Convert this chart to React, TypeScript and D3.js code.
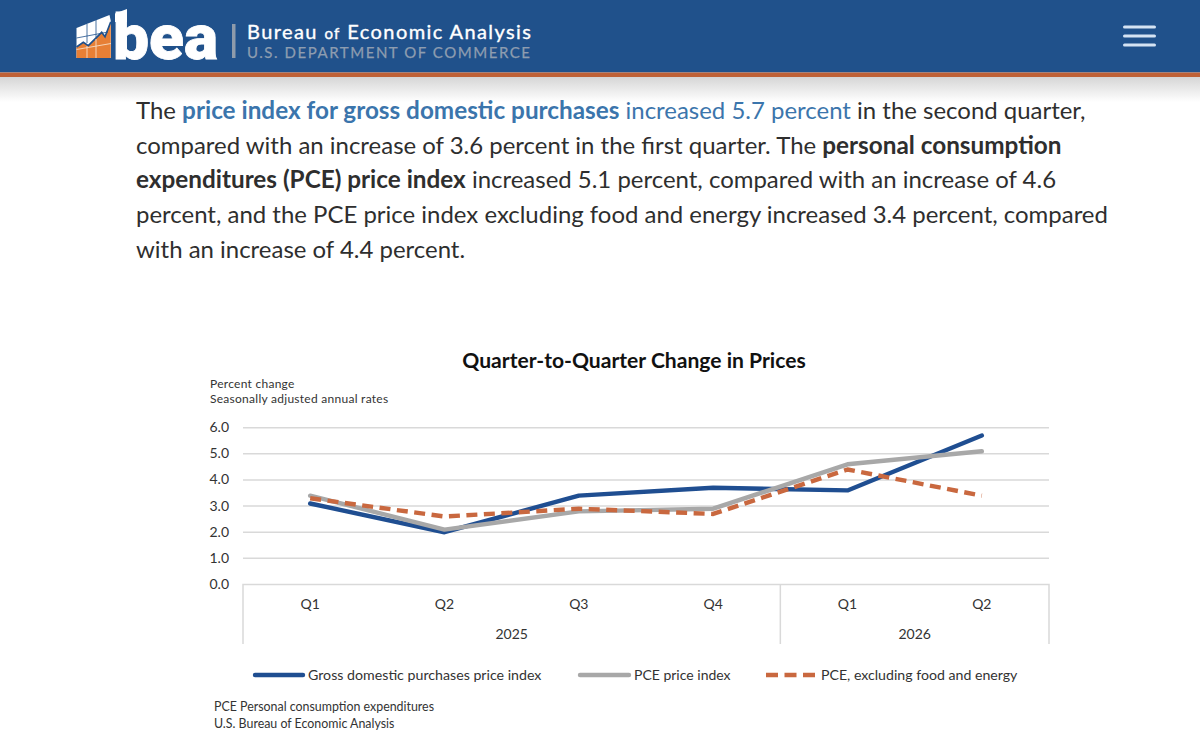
import React from "react";
import * as d3 from "d3";

const quarters = ["Q1", "Q2", "Q3", "Q4", "Q1", "Q2"];
const years = [{ label: "2025", from: 0, to: 4 }, { label: "2026", from: 4, to: 6 }];
const yTicks = [0, 1, 2, 3, 4, 5, 6];
const gross = [3.1, 2.0, 3.4, 3.7, 3.6, 5.7];
const pce = [3.4, 2.1, 2.8, 2.9, 4.6, 5.1];
const pceCore = [3.3, 2.6, 2.9, 2.7, 4.4, 3.4];
const legendLabels = ["Gross domestic purchases price index", "PCE price index", "PCE, excluding food and energy"];
const BLUE = "#1f4e91", GRAY = "#a8a8a8", ORANGE = "#c9683f", GRID = "#d9d9d9";

const paragraph: { t: string; b?: boolean; c?: string }[][] = [
  [{ t: "The " }, { t: "price index for gross domestic purchases", b: true, c: "#3b75ac" }, { t: " increased 5.7 percent", c: "#3b75ac" }, { t: " in the second quarter," }],
  [{ t: "compared with an increase of 3.6 percent in the first quarter. The " }, { t: "personal consumption", b: true }],
  [{ t: "expenditures (PCE) price index", b: true }, { t: " increased 5.1 percent, compared with an increase of 4.6" }],
  [{ t: "percent, and the PCE price index excluding food and energy increased 3.4 percent, compared" }],
  [{ t: "with an increase of 4.4 percent." }],
];
const paragraphY = [119, 154, 188, 223, 258];

const F = "Lato, sans-serif";

export default function App() {
  const x0 = 243, x1 = 1049, y0 = 584.5, y6 = 427.7, bottom = 644;
  const band = d3.scaleBand<number>().domain(d3.range(quarters.length)).range([x0, x1]);
  const y = d3.scaleLinear().domain([0, 6]).range([y0, y6]);
  const cx = (i: number) => (band(i) as number) + band.bandwidth() / 2;
  const line = d3.line<number>().x((_, i) => cx(i)).y((d) => y(d));
  const sep = band(4) as number;
  return (
    <svg width={1200} height={740} style={{ position: "absolute", left: 0, top: 0, display: "block" }}>
      <defs>
        <linearGradient id="shadow" x1="0" x2="0" y1="0" y2="1">
          <stop offset="0" stopColor="#d4d4d4" />
          <stop offset="1" stopColor="#ffffff" />
        </linearGradient>
      </defs>
      <rect width={1200} height={740} fill="#fff" />
      <rect y={76} width={1200} height={26} fill="url(#shadow)" />
      <rect width={1200} height={72.5} fill="#20518b" />
      <rect y={72.5} width={1200} height={4.5} fill="#bf6136" />

      {/* logo */}
      <polygon points="76.5,28 109.5,15 111,22 111,58 76.5,58" fill="#ffffff" />
      <polygon points="76.5,47 83.3,42.3 88.3,45.7 101.7,32.3 105,36.7 110.8,21.7 110.8,58 76.5,58" fill="#e77f35" />
      <path d="M76.5,47 L83.3,42.3 L88.3,45.7 L101.7,32.3 L105,36.7 L110.8,21.7" fill="none" stroke="#20518b" strokeWidth={1.7} />
      <path d="M87,46 V58 M96,39 V58 M76.5,49.5 L111,43.5" stroke="#f7dcc4" strokeWidth={0.9} fill="none" />
      <path d="M87,24 V43 M96,20 V37 M76.5,38 L108,32" stroke="#20518b" strokeWidth={0.8} fill="none" />
      <polygon points="115,13.5 127,9 127,22 115,22" fill="#fff" />
      <text x={113} y={58.5} fontFamily="Roboto, sans-serif" fontWeight={900} fontSize={63} fill="#fff" stroke="#fff" strokeWidth={0.8} textLength={105} lengthAdjust="spacingAndGlyphs">bea</text>
      <rect x={232} y={24} width={3.5} height={34} fill="#8e9bab" />
      <text x={247} y={39} fontFamily={F} fontSize={20} fill="#fff" stroke="#fff" strokeWidth={0.35} textLength={284}>
        Bureau <tspan fontSize={15}>of</tspan> Economic Analysis
      </text>
      <text x={247} y={57.5} fontFamily={F} fontSize={15} fill="#8e9db0" stroke="#8e9db0" strokeWidth={0.25} textLength={283}>U.S. DEPARTMENT OF COMMERCE</text>
      {[27, 36, 45].map((yy) => (
        <rect key={yy} x={1123} y={yy - 1.5} width={33} height={3} rx={1.5} fill="#d5e3f3" />
      ))}

      {/* paragraph */}
      {paragraph.map((runs, i) => (
        <text key={i} x={136} y={paragraphY[i]} fontFamily={F} fontSize={23.96} fill="#2e2e2e">
          {runs.map((r, j) => (
            <tspan key={j} fontWeight={r.b ? 700 : 400} fontSize={r.b ? 24.3 : 23.96} fill={r.c ?? "#2e2e2e"}>{r.t}</tspan>
          ))}
        </text>
      ))}

      {/* chart */}
      <text x={634} y={368} textAnchor="middle" fontFamily={F} fontWeight={700} fontSize={21.1} fill="#111">Quarter-to-Quarter Change in Prices</text>
      <text x={210} y={388} fontFamily={F} fontSize={12} fill="#333" letterSpacing={0.27}>Percent change</text>
      <text x={210} y={403} fontFamily={F} fontSize={12} fill="#333" letterSpacing={0.27}>Seasonally adjusted annual rates</text>

      {yTicks.map((t) => (
        <g key={t}>
          {t > 0 && <line x1={x0} x2={x1} y1={y(t)} y2={y(t)} stroke={GRID} strokeWidth={1.5} />}
          <text x={229} y={y(t) + 4.5} textAnchor="end" fontFamily={F} fontSize={14} fill="#333">{t.toFixed(1)}</text>
        </g>
      ))}

      <path d={`M${x0},${bottom}V${y0}H${x1}V${bottom}M${sep},${y0}V${bottom}`} fill="none" stroke={GRID} strokeWidth={1.5} />
      {quarters.map((q, i) => (
        <text key={i} x={cx(i)} y={609} textAnchor="middle" fontFamily={F} fontSize={14} fill="#333">{q}</text>
      ))}
      {years.map((yr) => (
        <text key={yr.label} x={((band(yr.from) as number) + (yr.to < 6 ? (band(yr.to) as number) : x1)) / 2} y={639} textAnchor="middle" fontFamily={F} fontSize={14} fill="#333">{yr.label}</text>
      ))}

      <path d={line(gross) ?? ""} fill="none" stroke={BLUE} strokeWidth={4.4} strokeLinecap="round" strokeLinejoin="round" />
      <path d={line(pce) ?? ""} fill="none" stroke={GRAY} strokeWidth={4.4} strokeLinecap="round" strokeLinejoin="round" />
      <path d={line(pceCore) ?? ""} fill="none" stroke={ORANGE} strokeWidth={4.4} strokeDasharray="11 6.5" strokeLinejoin="round" />

      {/* legend */}
      <line x1={255} x2={303} y1={675} y2={675} stroke={BLUE} strokeWidth={4.4} strokeLinecap="round" />
      <text x={308} y={680} fontFamily={F} fontSize={14.2} fill="#333">{legendLabels[0]}</text>
      <line x1={580} x2={629} y1={675} y2={675} stroke={GRAY} strokeWidth={4.4} strokeLinecap="round" />
      <text x={634} y={680} fontFamily={F} fontSize={14} fill="#333">{legendLabels[1]}</text>
      <line x1={766} x2={815} y1={675} y2={675} stroke={ORANGE} strokeWidth={4.4} strokeDasharray="12 6.5" />
      <text x={821} y={680} fontFamily={F} fontSize={14.15} fill="#333">{legendLabels[2]}</text>

      <text x={214} y={711} fontFamily={F} fontSize={12.4} fill="#333">PCE Personal consumption expenditures</text>
      <text x={214} y={728} fontFamily={F} fontSize={12.4} fill="#333">U.S. Bureau of Economic Analysis</text>
    </svg>
  );
}
